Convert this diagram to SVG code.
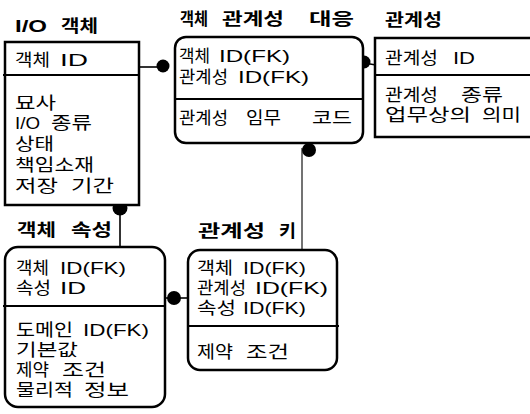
<svg xmlns="http://www.w3.org/2000/svg" width="530" height="414" viewBox="0 0 530 414">
<style>
.box{fill:#fff;stroke:#000;stroke-width:2.5}
.div{stroke:#000;stroke-width:2.2;fill:none}
.t{font-family:"Liberation Sans","Noto Sans CJK KR",sans-serif;font-size:17px;fill:#000}
.h{font-family:"Liberation Sans","Noto Sans CJK KR",sans-serif;font-size:17px;font-weight:bold;fill:#000}
.l{font-size:17px}
.c{stroke:#000;stroke-width:1.6;fill:none}
.g{stroke:#444;stroke-width:1.5;fill:none}
.dot{fill:#000}
</style>
<rect width="530" height="414" fill="#fff"/>
<g id="connectors">
<line class="c" x1="139" y1="67" x2="163" y2="67"/>
<line class="c" x1="364" y1="63" x2="376" y2="65"/>
<line class="g" x1="302" y1="148" x2="302" y2="250"/>
<line class="c" x1="120" y1="208" x2="120" y2="248"/>
<line class="c" x1="165" y1="298" x2="190" y2="298"/>
<circle class="dot" cx="163" cy="66" r="6.5"/>
<circle class="dot" cx="364" cy="62" r="6.5"/>
<circle class="dot" cx="309" cy="150" r="7"/>
<circle class="dot" cx="120" cy="208" r="7.5"/>
<circle class="dot" cx="174" cy="298" r="7"/>
</g>
<g id="io-object">
<text class="h" y="32"><tspan x="15" textLength="32" lengthAdjust="spacingAndGlyphs">I/O</tspan> <tspan x="61" textLength="37" lengthAdjust="spacingAndGlyphs">객체</tspan></text>
<rect class="box" x="5" y="42" width="134" height="163"/>
<line class="div" x1="3" y1="75" x2="139" y2="75"/>
<text class="t" y="66"><tspan x="15" textLength="35" lengthAdjust="spacingAndGlyphs">객체</tspan> <tspan class="l" x="60" textLength="28" lengthAdjust="spacingAndGlyphs">ID</tspan></text>
<text class="t" y="109"><tspan x="15" textLength="41" lengthAdjust="spacingAndGlyphs">묘사</tspan></text>
<text class="t" y="129"><tspan class="l" x="15" textLength="25" lengthAdjust="spacingAndGlyphs">I/O</tspan> <tspan x="51" textLength="41" lengthAdjust="spacingAndGlyphs">종류</tspan></text>
<text class="t" y="150"><tspan x="15" textLength="39" lengthAdjust="spacingAndGlyphs">상태</tspan></text>
<text class="t" y="171"><tspan x="15" textLength="79" lengthAdjust="spacingAndGlyphs">책임소재</tspan></text>
<text class="t" y="192"><tspan x="15" textLength="43" lengthAdjust="spacingAndGlyphs">저장</tspan> <tspan x="71" textLength="43" lengthAdjust="spacingAndGlyphs">기간</tspan></text>
</g>
<g id="object-relation-map">
<text class="h" y="25"><tspan x="180" textLength="28" lengthAdjust="spacingAndGlyphs">객체</tspan> <tspan x="222" textLength="62" lengthAdjust="spacingAndGlyphs">관계성</tspan> <tspan x="309" textLength="45" lengthAdjust="spacingAndGlyphs">대응</tspan></text>
<rect class="box" x="175" y="37" width="188" height="106" rx="11"/>
<line class="div" x1="175" y1="99" x2="363" y2="99"/>
<text class="t" y="62"><tspan x="179" textLength="31" lengthAdjust="spacingAndGlyphs">객체</tspan> <tspan class="l" x="219" textLength="71" lengthAdjust="spacingAndGlyphs">ID(FK)</tspan></text>
<text class="t" y="83"><tspan x="179" textLength="49" lengthAdjust="spacingAndGlyphs">관계성</tspan> <tspan class="l" x="238" textLength="71" lengthAdjust="spacingAndGlyphs">ID(FK)</tspan></text>
<text class="t" y="124"><tspan x="179" textLength="49" lengthAdjust="spacingAndGlyphs">관계성</tspan> <tspan x="246" textLength="35" lengthAdjust="spacingAndGlyphs">임무</tspan> <tspan x="312" textLength="40" lengthAdjust="spacingAndGlyphs">코드</tspan></text>
</g>
<g id="relation">
<text class="h" y="26"><tspan x="385" textLength="57" lengthAdjust="spacingAndGlyphs">관계성</tspan></text>
<path class="box" d="M532,38 H375 V137 H532"/>
<line class="div" x1="375" y1="75" x2="532" y2="75"/>
<text class="t" y="64"><tspan x="385" textLength="53" lengthAdjust="spacingAndGlyphs">관계성</tspan> <tspan class="l" x="453" textLength="22" lengthAdjust="spacingAndGlyphs">ID</tspan></text>
<text class="t" y="101"><tspan x="385" textLength="53" lengthAdjust="spacingAndGlyphs">관계성</tspan> <tspan x="461" textLength="42" lengthAdjust="spacingAndGlyphs">종류</tspan></text>
<text class="t" y="121"><tspan x="385" textLength="86" lengthAdjust="spacingAndGlyphs">업무상의</tspan> <tspan x="482" textLength="39" lengthAdjust="spacingAndGlyphs">의미</tspan></text>
</g>
<g id="object-attribute">
<text class="h" y="236"><tspan x="17" textLength="39" lengthAdjust="spacingAndGlyphs">객체</tspan> <tspan x="71" textLength="41" lengthAdjust="spacingAndGlyphs">속성</tspan></text>
<rect class="box" x="5" y="247" width="160" height="160" rx="13"/>
<line class="div" x1="3" y1="306" x2="165" y2="306"/>
<text class="t" y="274"><tspan x="16" textLength="33" lengthAdjust="spacingAndGlyphs">객체</tspan> <tspan class="l" x="60" textLength="66" lengthAdjust="spacingAndGlyphs">ID(FK)</tspan></text>
<text class="t" y="294"><tspan x="16" textLength="35" lengthAdjust="spacingAndGlyphs">속성</tspan> <tspan class="l" x="60" textLength="26" lengthAdjust="spacingAndGlyphs">ID</tspan></text>
<text class="t" y="336"><tspan x="16" textLength="57" lengthAdjust="spacingAndGlyphs">도메인</tspan> <tspan class="l" x="83" textLength="66" lengthAdjust="spacingAndGlyphs">ID(FK)</tspan></text>
<text class="t" y="356"><tspan x="16" textLength="62" lengthAdjust="spacingAndGlyphs">기본값</tspan></text>
<text class="t" y="376"><tspan x="16" textLength="33" lengthAdjust="spacingAndGlyphs">제약</tspan> <tspan x="62" textLength="44" lengthAdjust="spacingAndGlyphs">조건</tspan></text>
<text class="t" y="396"><tspan x="16" textLength="57" lengthAdjust="spacingAndGlyphs">물리적</tspan> <tspan x="84" textLength="45" lengthAdjust="spacingAndGlyphs">정보</tspan></text>
</g>
<g id="relation-key">
<text class="h" y="237"><tspan x="198" textLength="67" lengthAdjust="spacingAndGlyphs">관계성</tspan> <tspan x="279" textLength="17" lengthAdjust="spacingAndGlyphs">키</tspan></text>
<rect class="box" x="188" y="250" width="149" height="120" rx="12"/>
<line class="div" x1="188" y1="326" x2="339" y2="326"/>
<text class="t" y="274"><tspan x="197" textLength="36" lengthAdjust="spacingAndGlyphs">객체</tspan> <tspan class="l" x="243" textLength="63" lengthAdjust="spacingAndGlyphs">ID(FK)</tspan></text>
<text class="t" y="294"><tspan x="197" textLength="49" lengthAdjust="spacingAndGlyphs">관계성</tspan> <tspan class="l" x="255" textLength="73" lengthAdjust="spacingAndGlyphs">ID(FK)</tspan></text>
<text class="t" y="314"><tspan x="197" textLength="39" lengthAdjust="spacingAndGlyphs">속성</tspan> <tspan class="l" x="243" textLength="63" lengthAdjust="spacingAndGlyphs">ID(FK)</tspan></text>
<text class="t" y="358"><tspan x="197" textLength="36" lengthAdjust="spacingAndGlyphs">제약</tspan> <tspan x="246" textLength="43" lengthAdjust="spacingAndGlyphs">조건</tspan></text>
</g>
</svg>
